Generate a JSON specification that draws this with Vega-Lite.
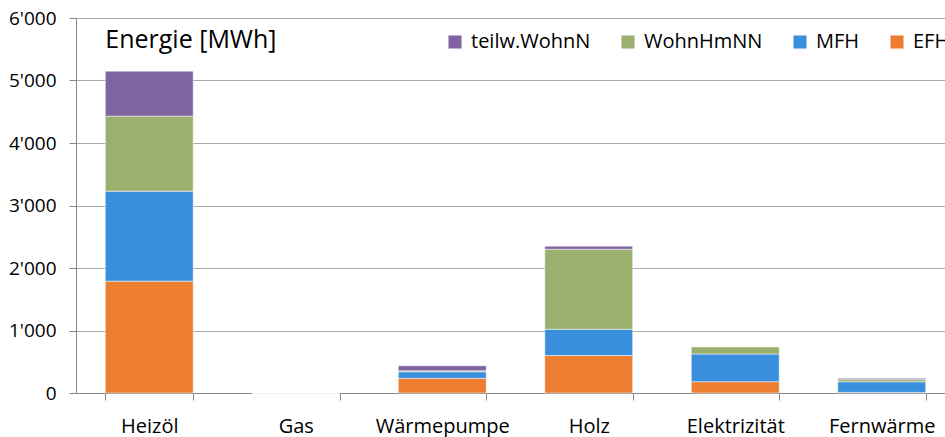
{
  "$schema": "https://vega.github.io/schema/vega-lite/v6.json",
  "autosize": "none",
  "width": 879,
  "height": 375,
  "padding": {"left": 76, "top": 18, "right": 0, "bottom": 44},
  "background": "white",
  "config": {"font": "Open Sans", "view": {"stroke": null}},
  "data": {"values": [
    {"Energietraeger": "Heizöl", "Typ": "EFH", "MWh": 1790},
    {"Energietraeger": "Heizöl", "Typ": "MFH", "MWh": 1440},
    {"Energietraeger": "Heizöl", "Typ": "WohnHmNN", "MWh": 1200},
    {"Energietraeger": "Heizöl", "Typ": "teilw.WohnN", "MWh": 720},
    {"Energietraeger": "Gas", "Typ": "EFH", "MWh": 0},
    {"Energietraeger": "Gas", "Typ": "MFH", "MWh": 0},
    {"Energietraeger": "Gas", "Typ": "WohnHmNN", "MWh": 0},
    {"Energietraeger": "Gas", "Typ": "teilw.WohnN", "MWh": 0},
    {"Energietraeger": "Wärmepumpe", "Typ": "EFH", "MWh": 235},
    {"Energietraeger": "Wärmepumpe", "Typ": "MFH", "MWh": 105},
    {"Energietraeger": "Wärmepumpe", "Typ": "WohnHmNN", "MWh": 16},
    {"Energietraeger": "Wärmepumpe", "Typ": "teilw.WohnN", "MWh": 80},
    {"Energietraeger": "Holz", "Typ": "EFH", "MWh": 600},
    {"Energietraeger": "Holz", "Typ": "MFH", "MWh": 420},
    {"Energietraeger": "Holz", "Typ": "WohnHmNN", "MWh": 1280},
    {"Energietraeger": "Holz", "Typ": "teilw.WohnN", "MWh": 50},
    {"Energietraeger": "Elektrizität", "Typ": "EFH", "MWh": 181},
    {"Energietraeger": "Elektrizität", "Typ": "MFH", "MWh": 443},
    {"Energietraeger": "Elektrizität", "Typ": "WohnHmNN", "MWh": 117},
    {"Energietraeger": "Elektrizität", "Typ": "teilw.WohnN", "MWh": 0},
    {"Energietraeger": "Fernwärme", "Typ": "EFH", "MWh": 10},
    {"Energietraeger": "Fernwärme", "Typ": "MFH", "MWh": 170},
    {"Energietraeger": "Fernwärme", "Typ": "WohnHmNN", "MWh": 35},
    {"Energietraeger": "Fernwärme", "Typ": "teilw.WohnN", "MWh": 20}
  ]},
  "layer": [
    {
      "mark": {"type": "bar", "stroke": "white", "strokeWidth": 0.5},
      "encoding": {
        "x": {
          "field": "Energietraeger", "type": "nominal",
          "sort": ["Heizöl", "Gas", "Wärmepumpe", "Holz", "Elektrizität", "Fernwärme"],
          "scale": {"paddingInner": 0.4, "paddingOuter": 0.2},
          "axis": {"title": null, "labelAngle": 0, "labelFontSize": 20, "labelColor": "#000000", "labelPadding": 16, "tickBand": "extent", "tickSize": 7, "tickColor": "#888888", "domainColor": "#888888", "grid": false, "labelFont": "Open Sans"}
        },
        "y": {
          "field": "MWh", "type": "quantitative", "aggregate": "sum",
          "scale": {"domain": [0, 6000], "nice": false},
          "axis": {"title": null, "values": [0, 1000, 2000, 3000, 4000, 5000, 6000], "labelExpr": "replace(format(datum.value, ','), ',', \"'\")", "labelFontSize": 19, "labelColor": "#000000", "labelPadding": 13, "tickSize": 7, "tickColor": "#888888", "domainColor": "#888888", "gridColor": "#aaaaaa", "gridWidth": 1, "labelFont": "Open Sans"}
        },
        "color": {
          "field": "Typ", "type": "nominal",
          "scale": {"domain": ["teilw.WohnN", "WohnHmNN", "MFH", "EFH"], "range": ["#8064A2", "#9BAF6E", "#3A8FDC", "#ED7D31"]},
          "legend": {"title": null, "orient": "none", "legendX": 369, "legendY": 14, "direction": "horizontal", "symbolType": "square", "symbolSize": 170, "symbolStrokeWidth": 0, "labelFontSize": 20, "labelColor": "#000000", "columnPadding": 27, "labelOffset": 6, "labelFont": "Open Sans"}
        },
        "order": {"field": "Typ", "sort": "ascending"}
      }
    },
    {
      "data": {"values": [{"label": "Energie [MWh]"}]},
      "mark": {"type": "text", "align": "left", "baseline": "alphabetic", "fontSize": 25, "font": "Open Sans", "color": "#000000"},
      "encoding": {
        "x": {"datum": "Heizöl", "type": "nominal", "bandPosition": 0},
        "y": {"datum": 5520, "type": "quantitative"},
        "text": {"field": "label"}
      }
    }
  ]
}
